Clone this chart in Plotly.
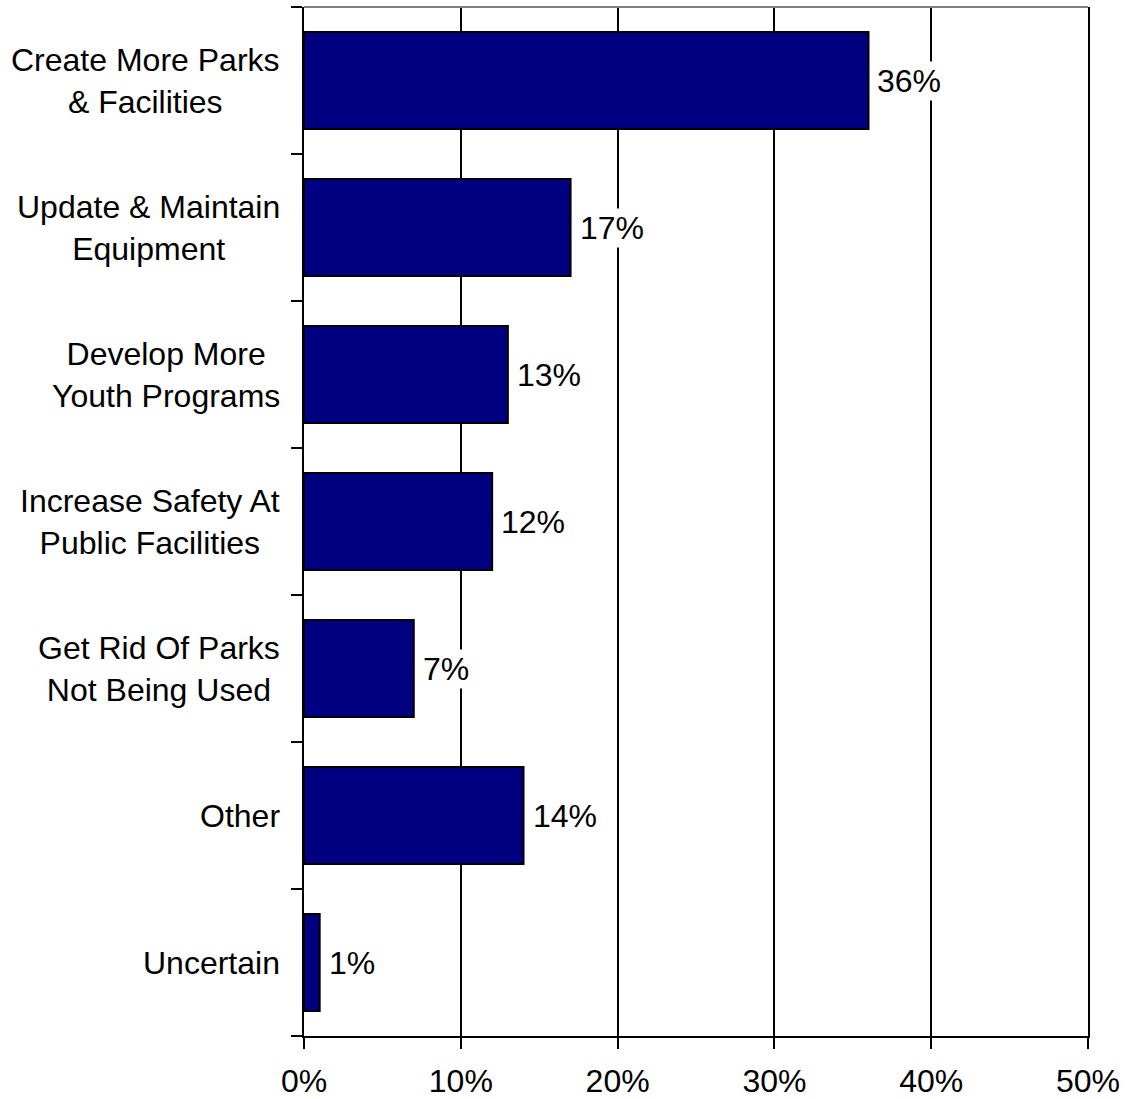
import plotly.graph_objects as go

# Survey responses: suggested improvements for parks and recreation
categories = [
    "Create More Parks<br>& Facilities",
    "Update & Maintain<br>Equipment",
    "Develop More<br>Youth Programs",
    "Increase Safety At<br>Public Facilities",
    "Get Rid Of Parks<br>Not Being Used",
    "Other",
    "Uncertain",
]
percent = [36, 17, 13, 12, 7, 14, 1]
x_ticks = [0, 10, 20, 30, 40, 50]
x_tick_labels = ["0%", "10%", "20%", "30%", "40%", "50%"]

FONT = "Liberation Sans, Arial, sans-serif"
idx = list(range(len(categories)))

fig = go.Figure(
    go.Bar(
        x=percent,
        y=idx,
        orientation="h",
        width=0.66,
        marker=dict(color="#000080", line=dict(color="black", width=2)),
        hoverinfo="skip",
    )
)

annotations = []
# value labels on a white background so they sit over the gridlines
for i, v in enumerate(percent):
    annotations.append(dict(
        x=v, y=i, xref="x", yref="y", text=f"{v}%", showarrow=False,
        xanchor="left", yanchor="middle", xshift=7, bgcolor="white",
        font=dict(family=FONT, size=32, color="black"),
    ))
# category labels, centred line by line, right-aligned to the axis
for i, c in enumerate(categories):
    annotations.append(dict(
        x=0, y=i, xref="paper", yref="y", text=c, showarrow=False,
        xanchor="right", yanchor="middle", align="center", xshift=-22,
        font=dict(family=FONT, size=32, color="black"),
    ))

fig.update_layout(
    width=1127, height=1099,
    margin=dict(l=304, r=39, t=7, b=63),
    paper_bgcolor="white", plot_bgcolor="white",
    showlegend=False,
    annotations=annotations,
    shapes=[dict(type="line", xref="paper", yref="paper", x0=0, x1=1, y0=1, y1=1,
                 line=dict(color="#808080", width=2))],
    xaxis=dict(
        range=[0, 50], tickvals=x_ticks, ticktext=x_tick_labels,
        showgrid=True, gridcolor="black", gridwidth=2,
        showline=True, linecolor="black", linewidth=2,
        ticks="outside", ticklen=11, tickwidth=2, tickcolor="black",
        ticklabelstandoff=5, automargin=False,
        tickfont=dict(family=FONT, size=32, color="black"),
        zeroline=False, fixedrange=True,
    ),
    yaxis=dict(
        range=[len(categories) - 0.5, -0.5],
        tickvals=[k - 0.5 for k in range(len(categories) + 1)],
        showticklabels=False, automargin=False,
        showgrid=False, zeroline=False,
        showline=True, mirror=True, linecolor="black", linewidth=2,
        ticks="outside", ticklen=11, tickwidth=2, tickcolor="black",
        fixedrange=True,
    ),
)

fig.write_html("out.html")
